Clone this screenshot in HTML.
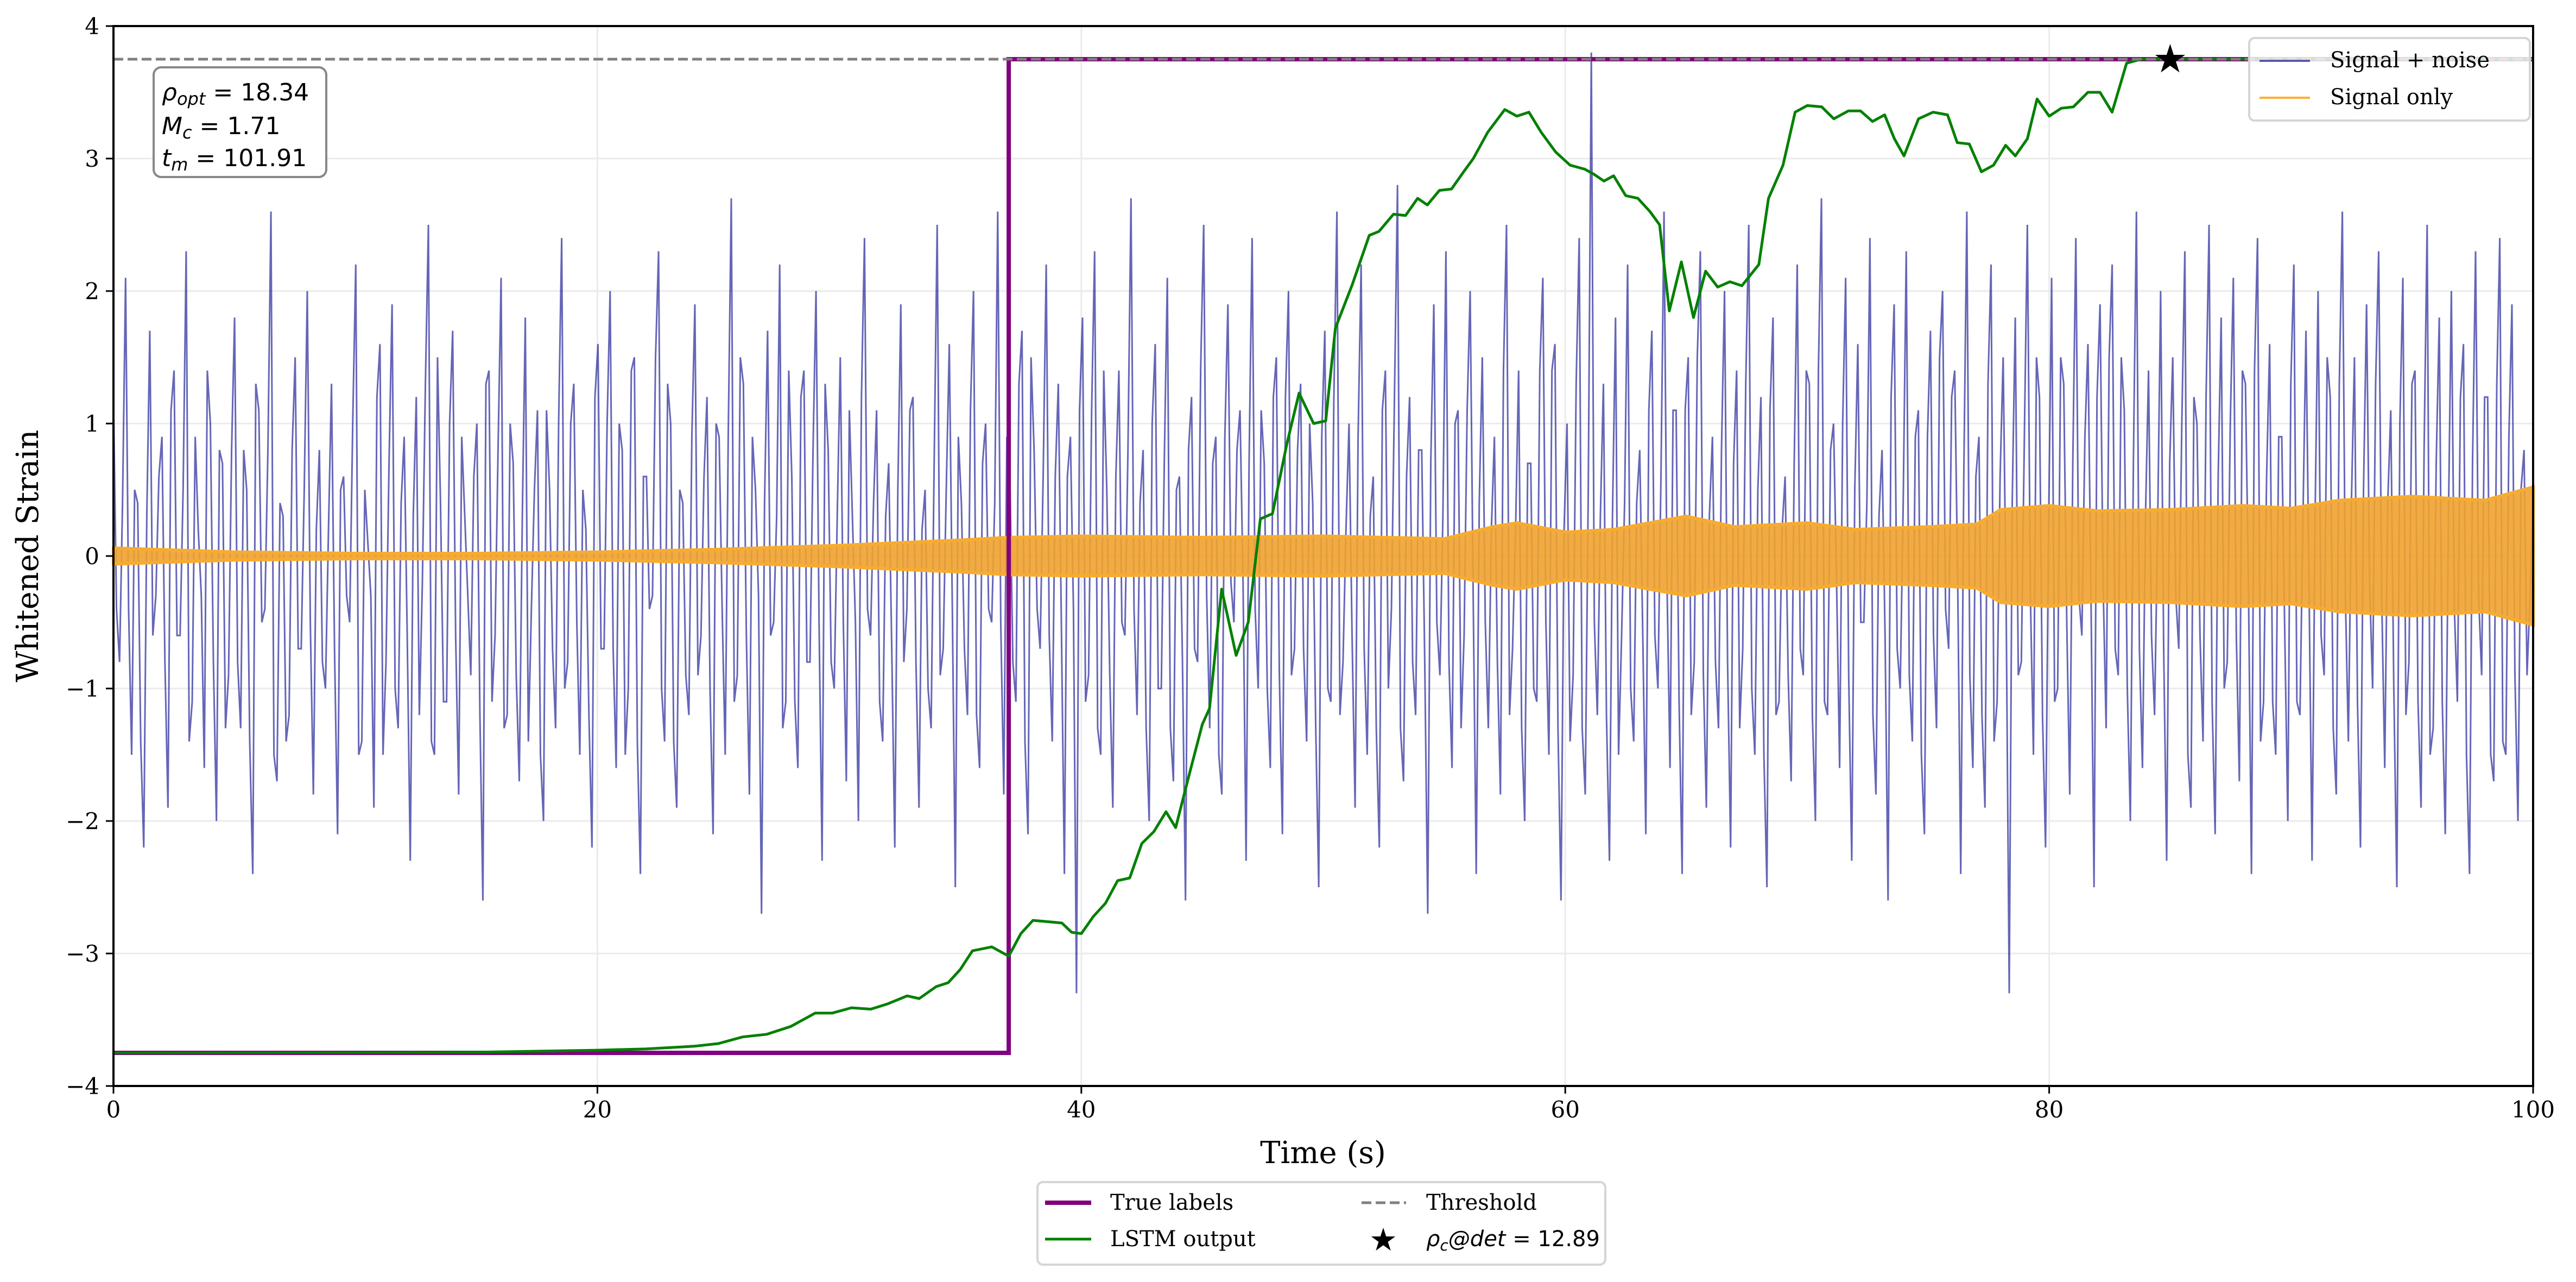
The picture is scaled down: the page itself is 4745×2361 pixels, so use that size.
<!DOCTYPE html>
<html><head><meta charset="utf-8"><style>
html,body{margin:0;padding:0;background:#fff;}
svg{display:block;font-family:"DejaVu Serif","Liberation Serif",serif;}
</style></head><body>
<svg id="chart" width="4745" height="2361" viewBox="0 0 4745 2361" xmlns="http://www.w3.org/2000/svg">
<rect width="4745" height="2361" fill="#fff"/>
<g id="grid"></g>
<g id="marks"></g>
<rect x="209" y="48" width="4457" height="1952" fill="none" stroke="#000" stroke-width="4"/>
<g id="ticks" font-size="42" fill="#000"></g>
<text x="2437" y="2142" font-size="56" text-anchor="middle">Time (s)</text>
<text x="70" y="1024" font-size="56" text-anchor="middle" transform="rotate(-90 70 1024)">Whitened Strain</text>

<g>
<rect x="283" y="124" width="318" height="202" rx="14" fill="#fff" stroke="#888" stroke-width="4"/>
<text x="298" y="185" font-family="'DejaVu Sans',sans-serif" font-size="44"><tspan font-style="italic">ρ</tspan><tspan font-style="italic" font-size="32" dy="8">opt</tspan><tspan dy="-8"> = 18.34</tspan></text>
<text x="298" y="247" font-family="'DejaVu Sans',sans-serif" font-size="44"><tspan font-style="italic">M</tspan><tspan font-style="italic" font-size="32" dy="8">c</tspan><tspan dy="-8"> = 1.71</tspan></text>
<text x="298" y="306" font-family="'DejaVu Sans',sans-serif" font-size="44"><tspan font-style="italic">t</tspan><tspan font-style="italic" font-size="32" dy="8">m</tspan><tspan dy="-8"> = 101.91</tspan></text>
</g>

<g>
<rect x="4143" y="70" width="517" height="152" rx="10" fill="#fff" fill-opacity="0.8" stroke="#d5d5d5" stroke-width="4"/>
<line x1="4162" y1="112" x2="4255" y2="112" stroke="#5a5ab4" stroke-width="4"/>
<text x="4292" y="124" font-size="40">Signal + noise</text>
<line x1="4162" y1="180" x2="4255" y2="180" stroke="#fbb030" stroke-width="4"/>
<text x="4292" y="192" font-size="40">Signal only</text>
</g>

<g>
<rect x="1911" y="2177" width="1046" height="152" rx="10" fill="#fff" stroke="#d5d5d5" stroke-width="4"/>
<line x1="1925" y1="2215" x2="2010" y2="2215" stroke="#800080" stroke-width="8"/>
<text x="2045" y="2228" font-size="40">True labels</text>
<line x1="1925" y1="2282" x2="2010" y2="2282" stroke="#008000" stroke-width="5"/>
<text x="2045" y="2295" font-size="40">LSTM output</text>
<line x1="2508" y1="2215" x2="2590" y2="2215" stroke="#808080" stroke-width="5" stroke-dasharray="18,8"/>
<text x="2627" y="2228" font-size="40">Threshold</text>
<text x="2548" y="2303" font-size="58" text-anchor="middle">★</text>
<text x="2627" y="2295" font-family="'DejaVu Sans',sans-serif" font-size="40"><tspan font-style="italic">ρ</tspan><tspan font-style="italic" font-size="28" dy="8">c</tspan><tspan dy="-8" font-style="italic">@det</tspan><tspan> = 12.89</tspan></text>
</g>
</svg>
<script>
const xTicks=[0,20,40,60,80,100];
const yTicks=[-4,-3,-2,-1,0,1,2,3,4];
const yTickLabels=["−4","−3","−2","−1","0","1","2","3","4"];
const threshold=3.75;
const labelStep=37;
const labelLow=-3.75, labelHigh=3.75;
const detTime=85, detValue=3.75;
const lstmT=[0,15,20,22,24,25,26,27,28,29,29.7,30.5,31.3,32,32.8,33.3,34,34.5,35,35.5,36.3,37,37.5,38,38.6,39.2,39.6,40,40.5,41,41.5,42,42.5,43,43.5,43.9,44.5,45,45.3,45.8,46.4,46.9,47.4,47.9,48.5,49,49.6,50.1,50.5,51.2,51.9,52.3,52.9,53.4,53.9,54.3,54.8,55.3,55.8,56.2,56.8,57.5,58,58.5,59,59.6,60.2,60.8,61.2,61.6,62,62.5,63,63.5,63.9,64.3,64.8,65.3,65.8,66.3,66.8,67.3,68,68.4,69,69.5,70,70.6,71.1,71.7,72.2,72.7,73.2,73.6,74,74.6,75.2,75.8,76.2,76.7,77.2,77.7,78.2,78.6,79.1,79.5,80,80.5,81,81.6,82.1,82.6,83.2,83.8,100];
const lstmV=[-3.75,-3.745,-3.73,-3.72,-3.7,-3.68,-3.63,-3.61,-3.55,-3.45,-3.45,-3.41,-3.42,-3.38,-3.32,-3.34,-3.25,-3.22,-3.12,-2.98,-2.95,-3.02,-2.85,-2.75,-2.76,-2.77,-2.84,-2.85,-2.72,-2.62,-2.45,-2.43,-2.17,-2.08,-1.93,-2.05,-1.62,-1.27,-1.15,-0.25,-0.75,-0.5,0.28,0.32,0.85,1.23,1.0,1.02,1.72,2.05,2.42,2.45,2.58,2.57,2.7,2.65,2.76,2.77,2.9,3.0,3.2,3.37,3.32,3.35,3.2,3.05,2.95,2.92,2.88,2.83,2.87,2.72,2.7,2.6,2.5,1.85,2.22,1.8,2.15,2.03,2.07,2.04,2.2,2.7,2.95,3.35,3.4,3.39,3.3,3.36,3.36,3.28,3.33,3.15,3.02,3.3,3.35,3.33,3.12,3.11,2.9,2.95,3.1,3.02,3.15,3.45,3.32,3.38,3.39,3.5,3.5,3.35,3.72,3.75,3.75];
const envT=[0,5,10,15,20,25,30,35,37,40,45,50,55,57,58,60,62,65,67,70,72,75,77,78,80,82,85,88,90,92,95,98,100];
const envA=[0.06,0.03,0.02,0.02,0.03,0.05,0.08,0.12,0.14,0.15,0.14,0.15,0.13,0.22,0.25,0.18,0.2,0.3,0.22,0.25,0.2,0.22,0.24,0.35,0.38,0.34,0.35,0.38,0.36,0.42,0.45,0.42,0.52];
const noise=[1.2,-0.8,2.1,-1.5,0.4,-2.2,1.7,-0.3,0.9,-1.9,1.4,-0.6,2.3,-1.1,0.2,-1.6,1.0,-2.0,0.7,-0.9,
1.8,-1.3,0.5,-2.4,1.1,-0.4,2.6,-1.7,0.3,-1.2,1.5,-0.7,2.0,-1.8,0.8,-1.0,1.3,-2.1,0.6,-0.5,
2.2,-1.4,0.1,-1.9,1.6,-0.8,1.9,-1.3,0.9,-2.3,1.2,-0.2,2.5,-1.5,0.4,-1.1,1.7,-1.8,0.3,-0.9,
1.0,-2.6,1.4,-0.6,2.1,-1.2,0.7,-1.7,1.8,-0.4,1.1,-2.0,0.5,-1.3,2.4,-0.8,1.3,-1.5,0.2,-2.2,
1.6,-0.7,2.0,-1.6,0.8,-1.0,1.5,-2.4,0.6,-0.3,2.3,-1.4,1.0,-1.9,0.4,-1.2,1.9,-0.6,1.2,-2.1,
0.9,-1.5,2.7,-0.9,1.3,-1.8,0.5,-2.7,1.7,-0.5,2.2,-1.1,0.6,-1.6,1.4,-0.8,2.0,-2.3,0.8,-1.0,
1.5,-1.7,0.3,-2.0,2.4,-0.6,1.1,-1.4,0.7,-2.2,1.9,-0.4,1.2,-1.9,0.5,-1.3,2.5,-0.7,1.6,-2.5,
0.4,-1.2,2.0,-1.6,1.0,-0.5,2.6,-1.8,0.6,-1.1,1.7,-2.1,0.8,-0.7,2.2,-1.4,1.3,-2.4,0.9,-3.3,
1.8,-0.9,2.3,-1.5,0.5,-1.9,1.4,-0.6,2.7,-1.2,0.8,-2.0,1.6,-1.0,2.1,-1.7,0.6,-2.6,1.2,-0.8,
2.5,-1.3,0.9,-1.8,1.9,-0.5,1.1,-2.3,2.4,-1.0,0.7,-1.6,1.5,-2.1,2.0,-0.7,1.3,-1.4,0.4,-2.5,
1.7,-1.1,2.6,-0.8,1.0,-1.9,2.2,-1.5,0.6,-2.2,1.4,-0.4,2.8,-1.7,1.2,-1.2,0.8,-2.7,1.9,-0.9,
2.3,-1.6,1.1,-0.6,2.0,-2.4,1.5,-1.3,0.9,-1.8,2.5,-0.7,1.4,-2.0,0.7,-1.1,2.1,-1.5,1.6,-2.6,
1.0,-0.9,2.4,-1.8,3.8,-1.2,1.3,-2.3,1.8,-0.6,2.2,-1.4,0.8,-2.1,1.7,-1.0,2.6,-1.6,1.1,-2.4,
1.5,-0.8,2.3,-1.9,0.9,-1.3,2.0,-2.2,1.4,-0.7,2.5,-1.5,1.2,-2.5,1.8,-1.1,0.6,-1.7,2.2,-0.9,
1.3,-2.0,2.7,-1.2,1.0,-1.6,2.1,-2.3,1.6,-0.5,2.4,-1.8,0.8,-2.6,1.9,-1.0,2.3,-1.4,1.1,-2.1,
1.7,-1.3,2.0,-0.7,1.4,-2.4,2.6,-1.6,0.9,-1.9,2.2,-1.1,1.5,-3.3,1.8,-0.8,2.5,-1.5,1.2,-2.2,
2.1,-1.0,1.3,-1.8,2.4,-0.6,1.6,-2.5,1.9,-1.3,2.2,-0.9,1.1,-2.0,2.6,-1.6,1.4,-1.2,2.0,-2.3,
1.5,-0.7,2.3,-1.9,1.0,-1.4,2.5,-2.1,1.8,-0.8,2.1,-1.7,1.3,-2.4,2.4,-1.1,1.6,-1.5,0.9,-2.0,
2.2,-1.2,1.7,-2.3,2.0,-0.9,1.2,-1.8,2.6,-1.4,1.5,-2.2,1.9,-1.0,2.3,-1.6,1.1,-2.5,2.1,-0.8,
1.4,-1.9,2.5,-1.3,1.8,-2.1,2.0,-1.1,1.6,-2.4,2.3,-0.9,1.2,-1.7,2.4,-1.5,1.9,-2.0,0.8,-0.3];
const noise2=[-0.4,0.7,-1.1,0.3,-0.6,1.0,-1.3,0.5,-0.2,0.9,-0.8,1.2,-0.5,0.4,-1.4,0.8,-0.3,1.1,-0.9,0.6,
-1.2,0.2,-0.7,1.3,-0.4,0.9,-1.0,0.5,-1.5,0.7,-0.3,1.4,-0.6,0.3,-1.1,1.0,-0.8,0.4,-1.3,0.6,
-0.5,1.2,-0.9,0.2,-1.4,0.8,-0.6,1.1,-0.2,0.5,-1.0,1.3,-0.7,0.4,-1.2,0.9,-0.4,1.5,-0.8,0.3,
-1.1,0.6,-0.3,1.0,-1.5,0.7,-0.5,1.2,-0.9,0.2,-1.3,0.8,-0.6,1.4,-0.4,0.5,-1.0,1.1,-0.7,0.3,
-1.4,0.9,-0.2,1.3,-0.8,0.6,-1.2,0.4,-0.5,1.0,-1.1,0.7,-0.3,1.5,-0.9,0.2,-1.3,0.8,-0.6,1.2,
-0.4,1.1,-1.0,0.3,-1.5,0.6,-0.7,1.4,-0.2,0.9,-1.2,0.5,-0.8,1.0,-0.5,0.4,-1.4,1.3,-0.3,0.7,
-1.1,0.2,-0.9,1.2,-0.6,0.8,-1.3,0.5,-0.4,1.5,-1.0,0.3,-0.7,1.1,-1.5,0.6,-0.2,0.9,-1.2,0.4,
-0.8,1.3,-0.5,0.7,-1.1,1.0,-0.3,0.2,-1.4,0.8,-0.6,1.2,-0.9,0.5,-1.3,1.4,-0.4,0.3,-1.0,0.6,
-0.7,1.1,-1.5,0.9,-0.2,0.4,-1.2,1.3,-0.8,0.5,-1.0,0.7,-0.5,1.5,-1.1,0.2,-0.6,1.0,-1.4,0.8,
-0.3,1.2,-0.9,0.6,-1.3,0.3,-0.7,1.4,-0.4,0.9,-1.5,0.5,-0.8,1.1,-0.2,0.7,-1.2,1.0,-0.6,0.4,
-1.0,1.3,-0.5,0.2,-1.4,0.8,-0.3,1.2,-1.1,0.6,-0.7,1.5,-0.9,0.3,-1.3,0.9,-0.4,1.0,-0.8,0.5,
-1.2,0.7,-0.6,1.4,-0.2,0.4,-1.5,1.1,-0.5,0.8,-1.0,0.3,-0.9,1.3,-0.7,0.6,-1.4,1.2,-0.3,0.9,
-1.1,0.5,-0.8,1.0,-1.3,0.2,-0.4,1.5,-0.6,0.7,-1.2,1.1,-0.9,0.4,-1.5,0.8,-0.5,1.3,-1.0,0.6,
-0.3,1.4,-1.1,0.9,-0.7,0.3,-1.3,1.2,-0.6,0.5,-1.4,1.0,-0.2,0.8,-1.2,0.4,-0.8,1.5,-0.9,0.7,
-1.5,0.6,-0.4,1.1,-1.0,0.9,-0.7,1.3,-0.3,0.5,-1.3,1.2,-0.5,0.4,-1.1,1.4,-0.8,0.7,-1.4,0.3,
-0.6,1.0,-1.2,0.8,-0.9,1.5,-0.4,0.6,-1.5,1.1,-0.7,0.2,-1.0,1.3,-0.5,0.9,-1.3,0.5,-0.8,1.2,
-1.1,0.7,-0.3,1.4,-1.4,0.4,-0.9,1.0,-0.6,1.3,-1.2,0.8,-0.5,1.1,-1.5,0.6,-0.7,1.5,-1.0,0.3,
-0.8,1.2,-1.3,0.9,-0.4,1.4,-1.1,0.5,-0.6,1.0,-1.4,0.7,-0.9,1.3,-0.3,0.8,-1.5,1.1,-0.7,0.4,
-1.2,1.5,-0.5,0.6,-1.0,1.2,-0.8,0.3,-1.3,1.4,-0.6,0.9,-1.1,0.5,-0.4,1.0,-1.5,0.8,-0.9,1.3,
-0.7,0.4,-1.4,1.1,-0.5,0.9,-1.2,1.5,-0.3,0.6,-1.0,1.2,-0.8,0.7,-1.3,0.3,-0.6,1.4,-1.1,0.2];

const X0=209,X1=4666,Y0=2000,Y1=48;
const xs=t=>X0+(t-0)/(100-0)*(X1-X0);
const ys=v=>Y0-(v-(-4))/(8)*(Y0-Y1);
const NS="http://www.w3.org/2000/svg";
function mk(tag,attrs,parent){const e=document.createElementNS(NS,tag);for(const k in attrs)e.setAttribute(k,attrs[k]);parent.appendChild(e);return e;}
const grid=document.getElementById('grid'),marks=document.getElementById('marks'),ticks=document.getElementById('ticks');

xTicks.forEach(t=>{
  const g=mk('line',{x1:xs(t),x2:xs(t),y1:Y1,y2:Y0,stroke:'#ebebeb','stroke-width':3},grid);
  
  
  const tk=mk('line',{x1:xs(t),x2:xs(t),y1:Y0,y2:Y0+14,stroke:'#000','stroke-width':3},ticks);
  
  
  const tx=mk('text',{x:xs(t),y:Y0+58,'text-anchor':'middle'},ticks);
  
  
  tx.textContent=String(t);
});
yTicks.forEach((v,i)=>{
  const g=mk('line',{x1:X0,x2:X1,y1:ys(v),y2:ys(v),stroke:'#ebebeb','stroke-width':3},grid);
  
  
  const tk=mk('line',{x1:X0-14,x2:X0,y1:ys(v),y2:ys(v),stroke:'#000','stroke-width':3},ticks);
  
  
  const tx=mk('text',{x:X0-26,y:ys(v)+15,'text-anchor':'end'},ticks);
  
  
  tx.textContent=yTickLabels[i];
});

// noise: merge the two read sample sets (second set visited with a stride to break regularity)
const noiseAll=[];
noise.forEach((v,i)=>{noiseAll.push(v);noiseAll.push(noise2[(i*37)%noise2.length]);});
let d='';
noiseAll.forEach((v,i)=>{const t=i*100/(noiseAll.length-1);d+=(i?'L':'M')+xs(t).toFixed(1)+','+ys(v).toFixed(1);});
const nl=mk('path',{d:d,fill:'none',stroke:'#00008b','stroke-opacity':0.6,'stroke-width':3},marks);



// signal-only envelope band
let up='',lo='';
envT.forEach((t,i)=>{up+=(i?'L':'M')+xs(t).toFixed(1)+','+ys(envA[i]).toFixed(1);});
for(let i=envT.length-1;i>=0;i--){lo+='L'+xs(envT[i]).toFixed(1)+','+ys(-envA[i]).toFixed(1);}
const band=mk('path',{d:up+lo+'Z',fill:'#f0a22e','fill-opacity':0.9,stroke:'#f7ac30','stroke-width':6},marks);



// true labels
const tl=mk('path',{d:`M${xs(0)},${ys(labelLow)}L${xs(labelStep)},${ys(labelLow)}L${xs(labelStep)},${ys(labelHigh)}L${xs(100)},${ys(labelHigh)}`,fill:'none',stroke:'#800080','stroke-width':8},marks);



// lstm
let dl='';
lstmT.forEach((t,i)=>{dl+=(i?'L':'M')+xs(t).toFixed(1)+','+ys(lstmV[i]).toFixed(1);});
const ll=mk('path',{d:dl,fill:'none',stroke:'#008000','stroke-width':5,'stroke-linejoin':'round'},marks);



// threshold
const th=mk('line',{x1:X0,x2:X1,y1:ys(threshold),y2:ys(threshold),stroke:'#808080','stroke-width':5,'stroke-dasharray':'18,8'},marks);



// star
const st=mk('text',{x:xs(detTime),y:ys(detValue)+24,'font-size':72,'text-anchor':'middle',fill:'#000'},marks);


st.textContent='★';
</script>
</body></html>
